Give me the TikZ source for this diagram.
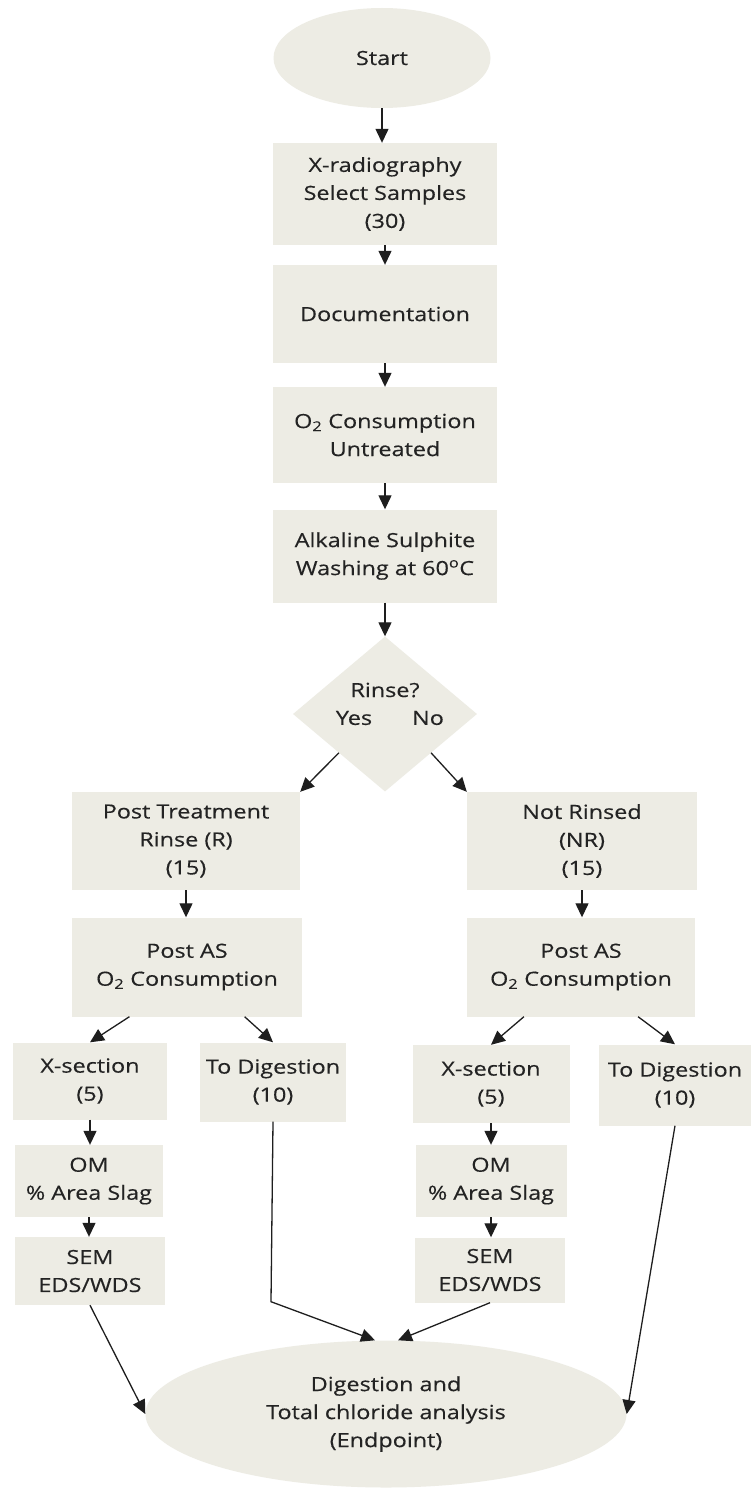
\documentclass[tikz,border=0pt]{standalone}
\usepackage{fontspec}
\setmainfont[FakeStretch=1.2,FakeBold=0.35]{Open Sans}
\usetikzlibrary{shapes.geometric,arrows.meta,calc}
\definecolor{boxfill}{RGB}{237,236,228}
\definecolor{txt}{RGB}{35,35,35}
\definecolor{ln}{RGB}{30,30,30}
\begin{document}
\begin{tikzpicture}[x=1pt,y=-1pt,
  box/.style={rectangle, fill=boxfill, draw=none, align=center, text=txt,
    font=\fontsize{19.5}{28}\selectfont, inner sep=0pt},
  oval/.style={ellipse, fill=boxfill, draw=none, align=center, text=txt,
    font=\fontsize{19.5}{28}\selectfont, inner sep=0pt},
  lbl/.style={text=txt, font=\fontsize{19.5}{28}\selectfont, inner sep=0pt},
  arr/.style={-{Triangle[length=14pt,width=13pt]}, line width=1.3pt, draw=ln},
  ln/.style={line width=1.3pt, draw=ln}]
\useasboundingbox (0,0) rectangle (750,1488);
\fill[white] (0,0) rectangle (750,1488);

% main column
\node[oval, minimum width=217pt, minimum height=100pt] (start) at (382,58) {Start};
\node[box, minimum width=224pt, minimum height=102pt] (xr) at (385,194) {X-radiography\\Select Samples\\(30)};
\node[box, minimum width=224pt, minimum height=98pt] (doc) at (385,314) {Documentation};
\node[box, minimum width=224pt, minimum height=96pt] (o2) at (385,435) {O\textsubscript{2} Consumption\\Untreated};
\node[box, minimum width=224pt, minimum height=93pt] (alk) at (385,556) {Alkaline Sulphite\\Washing at 60\textsuperscript{o}C};

% decision
\node[diamond, fill=boxfill, draw=none, minimum width=184pt, minimum height=155pt, inner sep=0pt] (rinse) at (385,714) {};
\node[lbl] (rq) at (385,690) {Rinse?};
\node[lbl] (yes) at (354,718) {Yes};
\node[lbl] (no) at (428,718) {No};

% branches
\node[box, minimum width=228pt, minimum height=98pt] (R) at (186,841) {Post Treatment\\Rinse (R)\\(15)};
\node[box, minimum width=230pt, minimum height=98pt] (NR) at (582,841) {Not Rinsed\\(NR)\\(15)};
\node[box, minimum width=230pt, minimum height=99pt] (pasR) at (187,967) {Post AS\\O\textsubscript{2} Consumption};
\node[box, minimum width=228pt, minimum height=99pt] (pasNR) at (581,967) {Post AS\\O\textsubscript{2} Consumption};

% left sub-branches
\node[box, minimum width=154pt, minimum height=77pt] (xsL) at (90,1081) {X-section\\(5)};
\node[box, minimum width=146pt, minimum height=79pt] (tdL) at (273,1082) {To Digestion\\(10)};
\node[box, minimum width=148pt, minimum height=72pt] (omL) at (89,1181) {OM\\\% Area Slag};
\node[box, minimum width=150pt, minimum height=68pt] (semL) at (90,1271) {SEM\\EDS/WDS};

% right sub-branches
\node[box, minimum width=157pt, minimum height=78pt] (xsR) at (491,1084) {X-section\\(5)};
\node[box, minimum width=152pt, minimum height=81pt] (tdR) at (675,1085) {To Digestion\\(10)};
\node[box, minimum width=151pt, minimum height=72pt] (omR) at (491,1181) {OM\\\% Area Slag};
\node[box, minimum width=150pt, minimum height=65pt] (semR) at (490,1270) {SEM\\EDS/WDS};

% end
\node[oval, minimum width=481pt, minimum height=147pt] (fin) at (386,1414) {Digestion and\\Total chloride analysis\\(Endpoint)};

% connectors
\draw[arr] (start.south) -- (start.south |- xr.north);
\draw[arr] (xr.south) -- (doc.north);
\draw[arr] (doc.south) -- (o2.north);
\draw[arr] (o2.south) -- (alk.north);
\draw[arr] (alk.south) -- (rinse.north);
\draw[arr] (rinse.south west) -- (R.north east);
\draw[arr] (rinse.south east) -- (NR.north west);
\draw[arr] (R.south) -- (R.south |- pasR.north);
\draw[arr] (NR.south) -- (NR.south |- pasNR.north);
\draw[arr] ($(pasR.south west)!0.25!(pasR.south east)$) -- (xsL.north);
\draw[arr] ($(pasR.south west)!0.75!(pasR.south east)$) -- (tdL.north);
\draw[arr] ($(pasNR.south west)!0.25!(pasNR.south east)$) -- (xsR.north);
\draw[arr] ($(pasNR.south west)!0.75!(pasNR.south east)$) -- (tdR.north);
\draw[arr] (xsL.south) -- (xsL.south |- omL.north);
\draw[arr] (omL.south) -- (omL.south |- semL.north);
\draw[arr] (xsR.south) -- (xsR.south |- omR.north);
\draw[arr] (omR.south) -- (omR.south |- semR.north);
\coordinate (finL) at ($(fin.north)+(-11,0)$);
\coordinate (finR) at ($(fin.north)+(12,0)$);
\coordinate (bend) at ($(tdL.south)+(-2,180)$);
\draw[arr] (tdL.south) -- (bend) -- (finL);
\draw[arr] (semR.south) -- (finR);
\draw[arr] (semL.south) -- (fin.west);
\draw[arr] (tdR.south) -- (fin.east);
\end{tikzpicture}
\end{document}
